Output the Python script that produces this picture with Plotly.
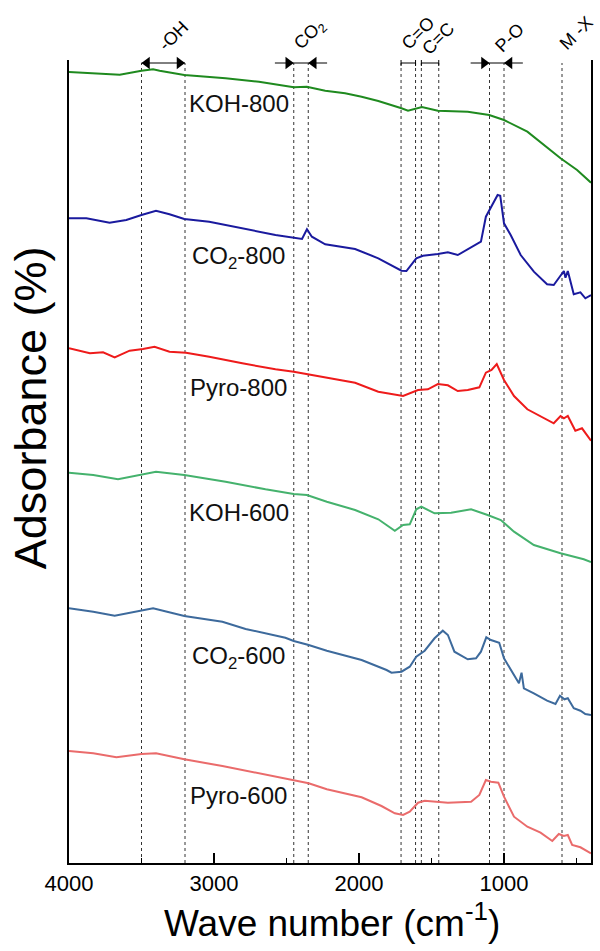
import plotly.graph_objects as go

# ---------------- data (wavenumber cm-1, absorbance offset a.u.) ----------------
koh800_wn = [4000, 3720, 3650, 3500, 3420, 3375, 3205, 2920, 2690, 2450, 2360, 2233, 2096, 1982, 1867,
             1707, 1662, 1566, 1456, 1250, 1102, 1000, 839, 610, 496, 400]
koh800_y = [791, 788.7, 788.3, 792.3, 793.7, 792.3, 788, 784.7, 781.3, 775.7, 776.3, 772.3, 769.7, 766.3, 762,
            754.7, 752.3, 756, 752.3, 751.3, 748, 743, 731.3, 704.7, 693, 680.3]

co2800_wn = [4000, 3880, 3720, 3605, 3500, 3400, 3307, 3205, 3033, 2805, 2576, 2393, 2359, 2325, 2233,
             2027, 1867, 1707, 1673, 1605, 1559, 1456, 1387, 1319, 1227, 1159, 1125, 1090, 1044, 1026,
             1000, 954, 885, 794, 703, 657, 610, 587, 576, 560, 519, 473, 439, 400]
co2800_y = [644.7, 644.7, 640.3, 643, 648, 652.3, 648.7, 644, 641.3, 634.7, 628, 624, 633.7, 626.3, 618.7,
            614, 604.7, 592.3, 592, 604.7, 607.3, 609, 610.7, 608, 615.7, 621.3, 646.3, 656.3, 668, 667.3,
            639.7, 628, 608, 591.3, 578.7, 578, 588, 592, 585.3, 592, 568.7, 570.7, 564.7, 568]

pyro800_wn = [4000, 3856, 3765, 3685, 3582, 3490, 3410, 3307, 3193, 3033, 2805, 2576, 2450, 2359, 2222,
              2027, 1867, 1696, 1593, 1525, 1456, 1387, 1319, 1250, 1170, 1125, 1086, 1050, 1000, 931,
              839, 748, 657, 610, 587, 560, 508, 462, 400]
pyro800_y = [514.7, 509.7, 510.7, 505.7, 512.3, 514, 516.3, 511.3, 510.3, 506.3, 499.7, 493.7, 491.3, 489, 485.7,
             480.3, 471.3, 467, 473, 473.7, 479, 477.7, 472, 473, 475.7, 490.3, 493, 499, 483, 467,
             453.7, 446.3, 439.7, 447, 444.7, 447, 432.3, 434.7, 422.3]

koh600_wn = [4000, 3833, 3662, 3500, 3400, 3205, 2920, 2645, 2450, 2359, 2222, 2027, 1867, 1753, 1696,
             1650, 1605, 1570, 1479, 1365, 1227, 1113, 1022, 931, 794, 610, 450, 400]
koh600_y = [390.3, 388, 383.7, 388, 391.3, 388, 381.3, 373.7, 369, 368, 361.3, 353, 343.7, 332.3, 338,
            338.7, 353.7, 356.3, 349.7, 350.3, 353.7, 348, 343, 331.3, 318, 309.7, 303.7, 301]

co2600_wn = [4000, 3833, 3685, 3500, 3420, 3205, 2942, 2782, 2508, 2450, 2347, 2222, 1982, 1810, 1776,
             1707, 1650, 1605, 1547, 1479, 1422, 1387, 1342, 1250, 1193, 1159, 1122, 1090, 1033, 1000,
             942, 897, 879, 863, 794, 725, 703, 645, 614, 583, 560, 519, 473, 439, 400]
co2600_y = [254.7, 251.3, 247.3, 253, 254.7, 247, 241.3, 234, 225.3, 222, 218, 212.3, 203, 193, 190.3,
            191.3, 196.3, 206.3, 212.3, 224.7, 232.3, 228, 211.3, 203.7, 204.7, 211.3, 225.7, 223, 220.3, 204.7,
            191.3, 179.7, 190.3, 174.7, 169.7, 164.7, 162.3, 159, 167.3, 163.7, 164.7, 154.7, 152.3, 149, 148]

pyro600_wn = [4000, 3833, 3673, 3500, 3400, 3205, 2942, 2690, 2450, 2347, 2222, 1982, 1845, 1753, 1696,
              1650, 1593, 1547, 1387, 1227, 1170, 1125, 1090, 1039, 1000, 931, 839, 748, 667, 622,
              587, 560, 530, 473, 400]
pyro600_y = [112, 109.7, 105.7, 109, 109.7, 103.7, 97, 89.7, 82.3, 79.7, 73.7, 65.7, 57, 49.7, 48,
             51.3, 60.3, 62.3, 60.3, 61.3, 68, 83, 81.3, 80.3, 66.3, 46.3, 36.3, 30.3, 22, 29,
             27, 28, 18, 15.7, 9.7]

series_names = ["KOH-800", "CO<sub>2</sub>-800", "Pyro-800", "KOH-600", "CO<sub>2</sub>-600", "Pyro-600"]
series_wn = [koh800_wn, co2800_wn, pyro800_wn, koh600_wn, co2600_wn, pyro600_wn]
series_y = [koh800_y, co2800_y, pyro800_y, koh600_y, co2600_y, pyro600_y]
series_colors = ["#1f8a1f", "#1a1a9e", "#ee1b1b", "#45b26d", "#3d6a9c", "#ea6b6b"]
label_x = 2830
label_y = [760, 606, 476, 351, 206, 68]

# band marker positions (cm-1)
band_lines = [3500, 3200, 2450, 2350, 1710, 1610, 1570, 1450, 1100, 1000, 600]
band_labels = ["-OH", "CO<sub>2</sub>", "C=O", "C=C", "P-O", "M -X"]
band_label_x = [3280, 2341, 1593, 1449, 962, 503]
band_label_y = [1.030, 1.031, 1.034, 1.027, 1.027, 1.034]   # paper fraction (above plot)

x_ticks = [4000, 3000, 2000, 1000]
Y_TOP = 803
MARK_Y = 800
HEAD = 38      # half arrow-head length, cm-1
TAIL = 130     # length of inward arrow shafts, cm-1

FONT = "Liberation Sans, Arial, sans-serif"

fig = go.Figure()
for name, wn, yy, col in zip(series_names, series_wn, series_y, series_colors):
    fig.add_trace(go.Scatter(x=wn, y=yy, mode="lines", name=name,
                             line=dict(color=col, width=2), showlegend=False))

shapes = []
for b in band_lines:
    shapes.append(dict(type="line", xref="x", yref="y", x0=b, x1=b, y0=0, y1=MARK_Y,
                       line=dict(color="#333333", width=1, dash="3px,3px"), layer="below"))

head_x, head_sym = [], []
# -OH: outward double arrow
oh_l, oh_r = band_lines[0], band_lines[1]
shapes.append(dict(type="line", xref="x", yref="y", x0=oh_l, x1=oh_r, y0=MARK_Y, y1=MARK_Y,
                   line=dict(color="black", width=1)))
head_x += [oh_l - HEAD, oh_r + HEAD]
head_sym += ["triangle-left", "triangle-right"]
# CO2 and P-O: inward arrows
for left, right in [(band_lines[2], band_lines[3]), (band_lines[8], band_lines[9])]:
    shapes.append(dict(type="line", xref="x", yref="y", x0=left + TAIL, x1=right - TAIL, y0=MARK_Y, y1=MARK_Y,
                       line=dict(color="black", width=1)))
    head_x += [left + HEAD, right - HEAD]
    head_sym += ["triangle-right", "triangle-left"]
fig.add_trace(go.Scatter(x=head_x, y=[MARK_Y] * len(head_x), mode="markers", showlegend=False,
                         hoverinfo="skip", cliponaxis=False,
                         marker=dict(symbol=head_sym, size=11, color="black", line=dict(width=0))))

# C=O and C=C brackets
for left, right in [(band_lines[4], band_lines[5]), (band_lines[6], band_lines[7])]:
    shapes.append(dict(type="line", xref="x", yref="y", x0=left, x1=right, y0=MARK_Y, y1=MARK_Y,
                       line=dict(color="black", width=1)))
    for e in (left, right):
        shapes.append(dict(type="line", xref="x", yref="y", x0=e, x1=e, y0=MARK_Y - 3, y1=MARK_Y + 3,
                           line=dict(color="black", width=1)))

annotations = []
for t, bx, by in zip(band_labels, band_label_x, band_label_y):
    annotations.append(dict(x=bx, y=by, xref="x", yref="paper", text=t, showarrow=False, textangle=-45,
                            xanchor="center", yanchor="middle",
                            font=dict(family=FONT, size=18, color="black")))

for name, ly in zip(series_names, label_y):
    annotations.append(dict(x=label_x, y=ly, xref="x", yref="y", text=name, showarrow=False,
                            xanchor="center", yanchor="middle",
                            font=dict(family=FONT, size=24, color="#111111")))

# axis titles
annotations.append(dict(x=0.504, y=-0.071, xref="paper", yref="paper", text="Wave number (cm<sup>-1</sup>)",
                        showarrow=False, xanchor="center", yanchor="middle",
                        font=dict(family=FONT, size=37, color="black")))
annotations.append(dict(x=-0.0744, y=0.5666, xref="paper", yref="paper", text="Adsorbance (%)",
                        showarrow=False, textangle=-90, xanchor="center", yanchor="middle",
                        font=dict(family=FONT, size=45, color="black")))

fig.update_layout(
    width=600, height=951,
    margin=dict(l=69, r=7, t=60, b=88),
    paper_bgcolor="white", plot_bgcolor="white",
    shapes=shapes, annotations=annotations,
    xaxis=dict(range=[4000, 400], tickvals=x_ticks, ticktext=[str(v) for v in x_ticks],
               ticks="inside", ticklen=10, tickwidth=1.5, tickcolor="black",
               minor=dict(dtick=500, tick0=0, ticks="inside", ticklen=5, tickwidth=1, tickcolor="black"),
               showline=True, linecolor="black", linewidth=1.5, mirror=False,
               showgrid=False, zeroline=False,
               tickfont=dict(family=FONT, size=22, color="black")),
    yaxis=dict(range=[0, Y_TOP], showticklabels=False, ticks="", showline=True, linecolor="black",
               linewidth=2, mirror=True, showgrid=False, zeroline=False),
)

fig.write_html("out.html")
